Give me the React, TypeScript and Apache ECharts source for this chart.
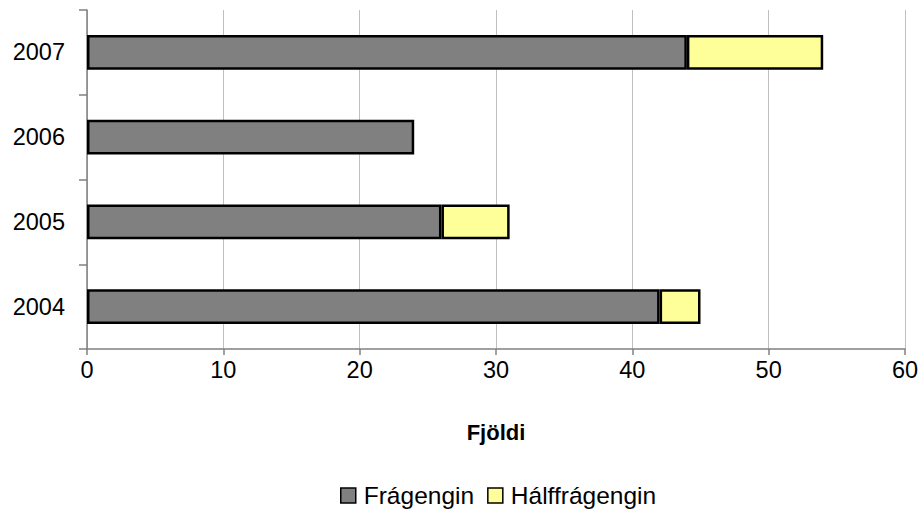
import React, { useEffect, useRef } from "react";
import * as echarts from "echarts";

const years = ["2004", "2005", "2006", "2007"];
const fragengin = [42, 26, 24, 44];
const halffragengin = [3, 5, 0, 10];
const xTicks = [0, 10, 20, 30, 40, 50, 60];

export default function App() {
  const ref = useRef<HTMLDivElement>(null);
  useEffect(() => {
    const chart = echarts.init(ref.current!, null, { renderer: "svg" });
    const font = "Liberation Sans, Arial, sans-serif";
    chart.setOption({
      animation: false,
      textStyle: { fontFamily: font },
      grid: { left: 87, right: 17, top: 10, bottom: 160, containLabel: false },
      xAxis: {
        type: "value",
        min: xTicks[0],
        max: xTicks[xTicks.length - 1],
        interval: 10,
        name: "Fjöldi",
        nameLocation: "middle",
        nameGap: 72,
        nameTextStyle: { fontSize: 22, fontWeight: "bold", color: "#000", fontFamily: font },
        axisLine: { show: true, lineStyle: { color: "#808080", width: 1.5 } },
        axisTick: { show: true, length: 6, lineStyle: { color: "#808080", width: 1.5 } },
        axisLabel: { fontSize: 23.5, color: "#000", margin: 9, fontFamily: font },
        splitLine: { show: true, lineStyle: { color: "#c0c0c0", width: 1 } },
      },
      yAxis: {
        type: "category",
        data: years,
        axisLine: { show: true, lineStyle: { color: "#808080", width: 1.5 } },
        axisTick: { show: true, length: 8, alignWithLabel: false, lineStyle: { color: "#808080", width: 1.5 } },
        axisLabel: { fontSize: 23.5, color: "#000", margin: 22, fontFamily: font },
        splitLine: { show: false },
      },
      legend: {
        bottom: -4,
        left: 335,
        itemWidth: 15,
        itemHeight: 15,
        itemGap: 13,
        icon: "rect",
        textStyle: { fontSize: 24.5, color: "#000", fontFamily: font, padding: [0, 0, 0, 3] },
        itemStyle: { borderColor: "#000", borderWidth: 1.5 },
        data: ["Frágengin", "Hálffrágengin"],
      },
      series: [
        {
          name: "Frágengin",
          type: "bar",
          stack: "total",
          barWidth: "41%",
          data: fragengin,
          itemStyle: { color: "#808080", borderColor: "#000", borderWidth: 2.5 },
        },
        {
          name: "Hálffrágengin",
          type: "bar",
          stack: "total",
          barWidth: "41%",
          data: halffragengin.map((v) => (v === 0 ? null : v)),
          itemStyle: { color: "#ffff99", borderColor: "#000", borderWidth: 2.5 },
        },
      ],
    });
    return () => chart.dispose();
  }, []);
  return (
    <div
      ref={ref}
      style={{ position: "fixed", left: 0, top: 0, width: 922, height: 509, background: "#fff" }}
    />
  );
}
